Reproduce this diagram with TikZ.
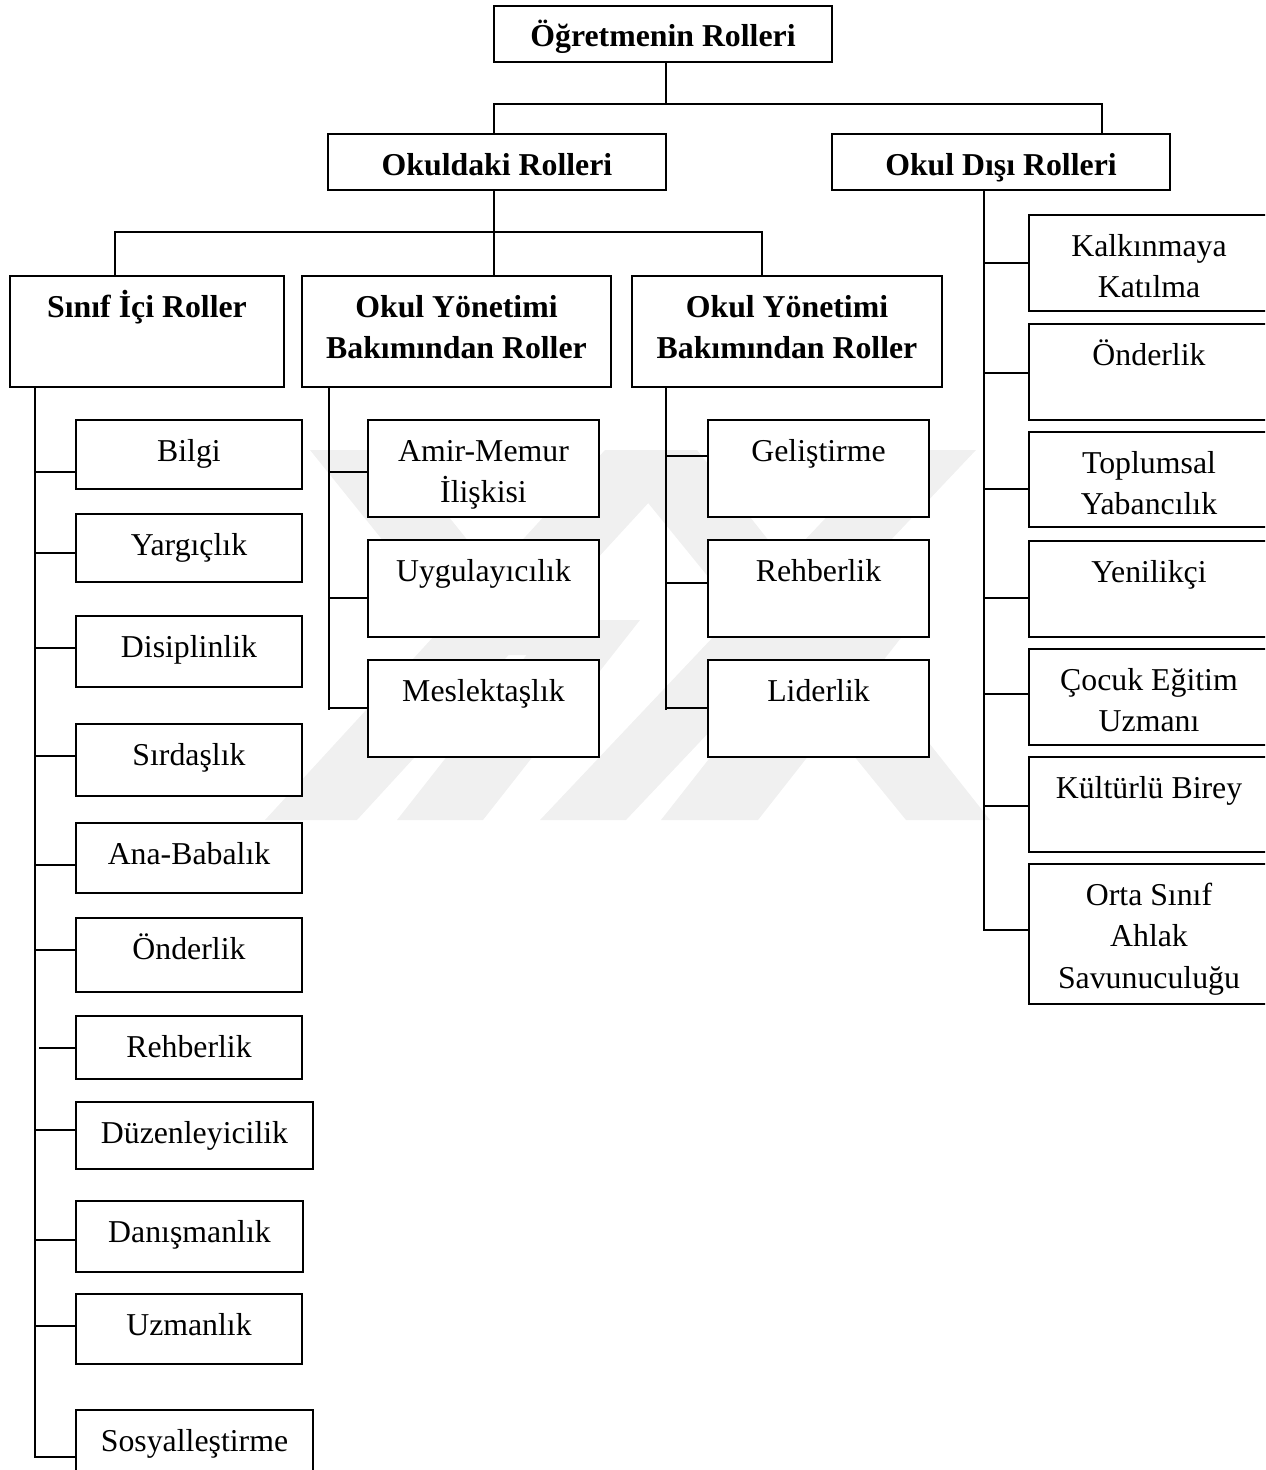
\documentclass[tikz,border=0pt]{standalone}
\usepackage{fontspec}
\setmainfont{Liberation Serif}
\usetikzlibrary{fit}

\tikzset{
  x=0.02cm, y=-0.02cm,
  wire/.style={line width=1.1pt, line join=miter},
  boxst/.style={draw, line width=1.1pt, fill=white, inner sep=0pt, rectangle},
  lbl/.style={font=\fontsize{18.1pt}{23.8pt}\selectfont, inner sep=0pt},
  hd/.style={font=\fontsize{18.1pt}{23.8pt}\selectfont\bfseries, inner sep=0pt},
  wm/.style={fill=black!6},
}

% box with its label; first baseline 41 units below the top edge
\newcommand\rolebox[7]{%
  \node[boxst, fit={(#3,#4) (#5,#6)}] (#1) {};
  \node[#2, anchor=base] (#1-t) at ({(#3+#5)/2},{#4+41}) {\parbox[t]{9cm}{\centering #7}};}

% horizontal branch from a trunk at x=#2, height #3, to the box #1
\newcommand\branch[3]{\draw[wire] (#2,#3) -- (#1.west |- #2,#3);}

% faint diagonal band of the background emblem: bottom edge #1..#2 at y=820,
% rising to height #3 with horizontal drift #4
\newcommand\band[4]{\fill[wm] (#1,820) -- (#2,820) -- ({#2+#4},#3) -- ({#1+#4},#3) -- cycle;}

\begin{document}
\begin{tikzpicture}
\useasboundingbox (0,0) rectangle (1265,1470);
\clip (0,0) rectangle (1265,1470);

% background emblem
\band{265}{357}{450}{340}
\band{397}{483}{620}{157}
\band{540}{626}{450}{350}
\band{661}{758}{620}{157}
\fill[wm] (605,450) -- (697,450) -- (990,820) -- (906,820) -- cycle;
\fill[wm] (310,450) -- (395,450) -- (560,655) -- (475,655) -- cycle;

% headings
\rolebox{root}{hd}{494}{6}{832}{62}{Öğretmenin Rolleri}
\rolebox{okul}{hd}{328}{134}{666}{190}{Okuldaki Rolleri}
\rolebox{dis}{hd}{832}{134}{1170}{190}{Okul Dışı Rolleri}
\rolebox{sinif}{hd}{10}{276}{284}{387}{Sınıf İçi Roller}
\rolebox{yon1}{hd}{302}{276}{611}{387}{Okul Yönetimi\\Bakımından Roller}
\rolebox{yon2}{hd}{632}{276}{942}{387}{Okul Yönetimi\\Bakımından Roller}

% classroom roles
\rolebox{bilgi}{lbl}{76}{420}{302}{489}{Bilgi}
\rolebox{yargi}{lbl}{76}{514}{302}{582}{Yargıçlık}
\rolebox{disip}{lbl}{76}{616}{302}{687}{Disiplinlik}
\rolebox{sirda}{lbl}{76}{724}{302}{796}{Sırdaşlık}
\rolebox{anaba}{lbl}{76}{823}{302}{893}{Ana-Babalık}
\rolebox{onder}{lbl}{76}{918}{302}{992}{Önderlik}
\rolebox{rehb}{lbl}{76}{1016}{302}{1079}{Rehberlik}
\rolebox{duzen}{lbl}{76}{1102}{313}{1169}{Düzenleyicilik}
\rolebox{danis}{lbl}{76}{1201}{303}{1272}{Danışmanlık}
\rolebox{uzman}{lbl}{76}{1294}{302}{1364}{Uzmanlık}
\rolebox{sosya}{lbl}{76}{1410}{313}{1490}{Sosyalleştirme}

% school administration roles
\rolebox{amir}{lbl}{368}{420}{599}{517}{Amir-Memur\\İlişkisi}
\rolebox{uygul}{lbl}{368}{540}{599}{637}{Uygulayıcılık}
\rolebox{mesle}{lbl}{368}{660}{599}{757}{Meslektaşlık}
\rolebox{gelis}{lbl}{708}{420}{929}{517}{Geliştirme}
\rolebox{rehb2}{lbl}{708}{540}{929}{637}{Rehberlik}
\rolebox{lider}{lbl}{708}{660}{929}{757}{Liderlik}

% roles outside the school
\rolebox{kalk}{lbl}{1029}{215}{1269}{311}{Kalkınmaya\\Katılma}
\rolebox{onder2}{lbl}{1029}{324}{1269}{420}{Önderlik}
\rolebox{toplu}{lbl}{1029}{432}{1269}{527}{Toplumsal\\Yabancılık}
\rolebox{yenil}{lbl}{1029}{541}{1269}{637}{Yenilikçi}
\rolebox{cocuk}{lbl}{1029}{649}{1269}{745}{Çocuk Eğitim\\Uzmanı}
\rolebox{kultu}{lbl}{1029}{757}{1269}{852}{Kültürlü Birey}
\rolebox{orta}{lbl}{1029}{864}{1269}{1004}{Orta Sınıf\\Ahlak\\Savunuculuğu}

% junction points of the upper levels
\coordinate (busA) at (494,104);
\coordinate (busB) at (1102,104);
\coordinate (busC) at (115,232);
\coordinate (busD) at (762,232);

\draw[wire] (root.south -| 666,0) -- (666,104);
\draw[wire] (okul.north -| busA) -- (busA) -- (busB) -- (dis.north -| busB);
\draw[wire] (okul.south -| 494,0) -- (494,232);
\draw[wire] (sinif.north -| busC) -- (busC) -- (busD) -- (yon2.north -| busD);
\draw[wire] (yon1.north -| 494,0) -- (494,232);

% trunks
\draw[wire] (sinif.south -| 35,0) -- (35,1457) -- (sosya.west |- 35,1457);
\draw[wire] (yon1.south -| 329,0) -- (329,710);
\draw[wire] (yon2.south -| 666,0) -- (666,710);
\draw[wire] (dis.south -| 984,0) -- (984,930) -- (orta.west |- 984,930);

% branches
\branch{bilgi}{35}{472}
\branch{yargi}{35}{553}
\branch{disip}{35}{648}
\branch{sirda}{35}{756}
\branch{anaba}{35}{865}
\branch{onder}{35}{950}
\branch{rehb}{39}{1048}
\branch{duzen}{35}{1130}
\branch{danis}{35}{1240}
\branch{uzman}{35}{1326}

\branch{amir}{329}{472}
\branch{uygul}{329}{598}
\branch{mesle}{329}{708}
\branch{gelis}{666}{456}
\branch{rehb2}{666}{583}
\branch{lider}{666}{708}

\branch{kalk}{984}{263}
\branch{onder2}{984}{373}
\branch{toplu}{984}{489}
\branch{yenil}{984}{598}
\branch{cocuk}{984}{694}
\branch{kultu}{984}{806}
\end{tikzpicture}
\end{document}
